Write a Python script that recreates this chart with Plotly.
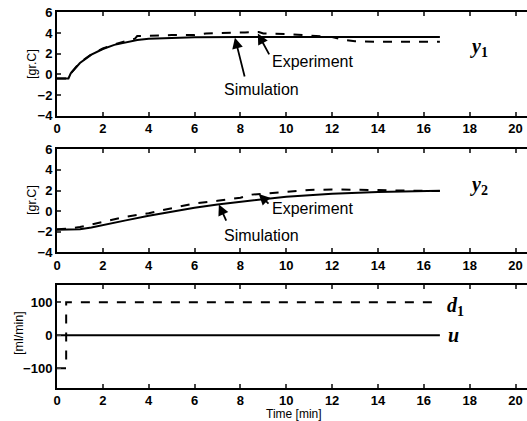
import plotly.graph_objects as go

# ---- data ----
t1_sim = [0, 0.5, 0.6, 1, 1.5, 2, 2.5, 3, 3.5, 4, 5, 6, 8, 10, 12, 14, 16.7]
y1_sim = [-0.4, -0.4, 0.1, 1.1, 1.9, 2.45, 2.85, 3.12, 3.33, 3.45, 3.55, 3.58, 3.6, 3.6, 3.6, 3.6, 3.6]
t1_exp = [0, 0.5, 0.6, 1, 1.5, 2, 2.5, 3, 3.4, 3.5, 4, 5, 6, 6.5, 7, 8, 8.2, 8.8, 9.0, 10, 11, 11.5, 12, 12.5, 13, 14, 15, 16.7]
y1_exp = [-0.4, -0.4, 0.1, 1.15, 1.95, 2.5, 2.9, 3.2, 3.45, 3.7, 3.75, 3.8, 3.8, 3.95, 4.0, 4.0, 4.05, 4.1, 3.95, 3.9, 3.75, 3.65, 3.6, 3.35, 3.2, 3.15, 3.15, 3.15]

t2_sim = [0, 1, 1.5, 2, 3, 4, 5, 6, 7, 8, 9, 10, 12, 14, 16.7]
y2_sim = [-1.8, -1.75, -1.6, -1.35, -0.9, -0.45, -0.05, 0.33, 0.65, 0.92, 1.2, 1.4, 1.68, 1.85, 1.98]
t2_exp = [0, 0.5, 1, 1.5, 2, 2.5, 3, 4, 5, 6, 7, 8, 8.5, 9, 10, 11, 12, 13, 14, 15, 16.7]
y2_exp = [-1.75, -1.7, -1.55, -1.3, -1.05, -0.8, -0.55, -0.2, 0.25, 0.75, 1.0, 1.3, 1.6, 1.7, 1.85, 2.05, 2.1, 2.1, 2.05, 2.0, 1.95]

t_d1 = [0, 0.4, 0.4, 16.6]
d1 = [-100, -100, 100, 100]
t_u = [0, 16.7]
u = [0, 0]

x_ticks = [0, 2, 4, 6, 8, 10, 12, 14, 16, 18, 20]
y_ticks_temp = [-4, -2, 0, 2, 4, 6]
y_ticks_flow = [-100, 0, 100]

# ---- figure ----
fig = go.Figure()
line_solid = dict(color="black", width=2)
line_dash = dict(color="black", width=2, dash="dash")

fig.add_trace(go.Scatter(x=t1_sim, y=y1_sim, mode="lines", line=line_solid, xaxis="x", yaxis="y"))
fig.add_trace(go.Scatter(x=t1_exp, y=y1_exp, mode="lines", line=line_dash, xaxis="x", yaxis="y"))
fig.add_trace(go.Scatter(x=t2_sim, y=y2_sim, mode="lines", line=line_solid, xaxis="x2", yaxis="y2"))
fig.add_trace(go.Scatter(x=t2_exp, y=y2_exp, mode="lines", line=line_dash, xaxis="x2", yaxis="y2"))
fig.add_trace(go.Scatter(x=t_d1, y=d1, mode="lines", line=line_dash, xaxis="x3", yaxis="y3"))
fig.add_trace(go.Scatter(x=t_u, y=u, mode="lines", line=line_solid, xaxis="x3", yaxis="y3"))

tickfont = dict(family="Liberation Sans", size=13, color="black", weight=700)

def bold(vals):
    return ["<b>" + str(v).replace("-", "\u2212") + "</b>" for v in vals]

def xax(anchor):
    return dict(range=[0, 20.5], tickvals=x_ticks, ticktext=bold(x_ticks), ticks="inside",
                ticklen=4, tickwidth=1.5, showline=True, linewidth=2, linecolor="black",
                mirror="ticks", showgrid=False, zeroline=False, tickfont=tickfont,
                anchor=anchor, automargin=False, ticklabelstandoff=0)

def yax(anchor, domain, rng, tv):
    return dict(range=rng, tickvals=tv, ticktext=bold(tv), ticks="inside", ticklen=4,
                tickwidth=1.5, showline=True, linewidth=2, linecolor="black", mirror=False,
                showgrid=False, zeroline=False, tickfont=tickfont, anchor=anchor,
                domain=domain, automargin=False)

W = 527.0
H = 421.0
L = 57.0
PW = W - L

def px(xpix):
    return (xpix - L) / PW

def py(ypix):
    return 1 - ypix / H

fig.update_layout(
    width=527, height=421,
    margin=dict(l=57, r=0, t=0, b=0),
    paper_bgcolor="white", plot_bgcolor="white",
    showlegend=False,
    xaxis=xax("y"), xaxis2=xax("y2"), xaxis3=xax("y3"),
    yaxis=yax("x", [py(115.7), py(12.3)], [-4, 6], y_ticks_temp),
    yaxis2=yax("x2", [py(252.3), py(149.3)], [-4, 6], y_ticks_temp),
    yaxis3=yax("x3", [py(387.5), py(285)], [-158, 152], y_ticks_flow),
)

txtfont = dict(family="Liberation Sans", size=16, color="black")
labfont = dict(family="Liberation Serif", size=20, color="black", style="italic", weight=700)

def arrow(xr, yr, tip, tail):
    fig.add_annotation(x=tip[0], y=tip[1], ax=tail[0], ay=tail[1], xref=xr, yref=yr,
                       axref=xr, ayref=yr, text="", showarrow=True, arrowhead=2,
                       arrowsize=1.2, arrowwidth=1.8, arrowcolor="black")

def text(xr, yr, x, y, s, font):
    fig.add_annotation(x=x, y=y, xref=xr, yref=yr, text=s, showarrow=False, font=font)

sub = "<sub><span style='font-style:normal'>{}</span></sub>"

# panel 1 annotations
arrow("x", "y", (7.76, 3.55), (8.2, -0.35))
text("x", "y", 8.92, -1.5, "Simulation", txtfont)
arrow("x", "y", (8.76, 3.95), (9.29, 1.78))
text("x", "y", 11.14, 1.2, "Experiment", txtfont)
text("x", "y", 18.4, 2.6, "y" + sub.format("1"), labfont)

# panel 2 annotations
arrow("x2", "y2", (8.8, 1.66), (9.29, 0.59))
text("x2", "y2", 11.14, 0.3, "Experiment", txtfont)
arrow("x2", "y2", (7.06, 0.65), (7.41, -1.06))
text("x2", "y2", 8.92, -2.32, "Simulation", txtfont)
text("x2", "y2", 18.4, 2.5, "y" + sub.format("2"), labfont)

# panel 3 labels
text("x3", "y3", 17.4, 88, "d" + sub.format("1"), labfont)
text("x3", "y3", 17.3, 2, "u", labfont)

# axis titles
ytfont = dict(family="Liberation Sans", size=12.5, color="black")
for ypix, s, xpix in [(64, "[gr.C]", 32), (200, "[gr.C]", 32), (333, "[ml/min]", 19)]:
    fig.add_annotation(x=px(xpix), y=py(ypix), xref="paper", yref="paper", text=s,
                       textangle=-90, showarrow=False, font=ytfont,
                       xanchor="center", yanchor="middle")
fig.add_annotation(x=px(294), y=py(413.5), xref="paper", yref="paper", text="Time [min]",
                   showarrow=False, font=dict(family="Liberation Sans", size=12, color="black"),
                   yanchor="middle", xanchor="center")

fig.write_html("out.html")
